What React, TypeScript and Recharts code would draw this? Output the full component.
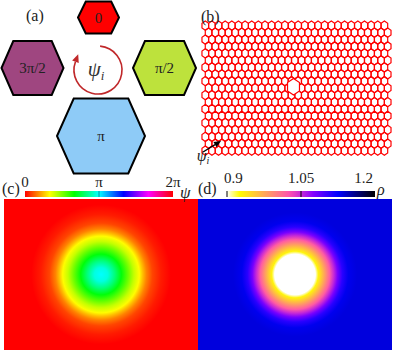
import React from 'react';
import { ScatterChart, Scatter, XAxis, YAxis, BarChart, Bar, ReferenceLine } from 'recharts';

const SERIF = '"Liberation Serif", "DejaVu Serif", serif';
const TWO_PI = 2 * Math.PI;

// (a) phase hexagons around the psi arrow
const HEX_LABELS = ['0', 'π/2', 'π', '3π/2'];
const HEX_X = [0.01, 1.33, 0.06, -1.31];
const HEX_Y = [1.05, 0.04, -1.32, 0.04];
const HEX_W = [0.41, 0.63, 0.88, 0.62];
const HEX_H = [0.32, 0.54, 0.75, 0.54];
const HEX_COLORS = ['#ff0000', '#bde23c', '#8ecbf7', '#9f4680'];

// (b) lattice
const LATTICE_COLS = 28;
const LATTICE_ROWS = 19;
const DEFECT = [{ x: 13.3, y: 8.8 }];
const B_ARROW = [{ x: -0.34, y: 18.19, dx: 2.71, dy: -1.58 }];

// (c) psi profile vs radius (radius in units of half box width, psi in units of pi)
const C_RADIUS = [0, 0.07, 0.14, 0.21, 0.28, 0.34, 0.395, 0.43, 0.47, 0.53, 0.62, 0.72];
const C_PSI = [1, 0.96, 0.83, 0.68, 0.53, 0.41, 0.33, 0.25, 0.17, 0.09, 0.035, 0];
const C_TICKS = [0, Math.PI, TWO_PI];
const C_TICK_LABELS = ['0', 'π', '2π'];

// (d) density profile vs radius
const D_RADIUS = [0, 0.21, 0.24, 0.28, 0.32, 0.36, 0.4, 0.44, 0.49, 0.55, 0.64];
const D_RHO = [0.9, 0.9, 0.93, 0.96, 0.99, 1.02, 1.05, 1.08, 1.11, 1.13, 1.135];
const D_TICKS = [0.9, 1.05, 1.2];
const D_TICK_LABELS = ['0.9', '1.05', '1.2'];

const hueColor = (psi: number) => `hsl(${(((psi / TWO_PI) * 360) % 360).toFixed(1)}, 100%, 50%)`;

function gnuplot2(t: number) {
  const c = (v: number) => Math.max(0, Math.min(1, v));
  t = c(t);
  const r = c(t / 0.32 - 0.78125);
  const g = c(2 * t - 0.84);
  let b;
  if (t < 0.25) b = 4 * t;
  else if (t < 0.42) b = 1;
  else if (t < 0.92) b = (0.92 - t) / 0.5;
  else b = (t - 0.92) * 12.5;
  const h = (v: number) => Math.round(c(v) * 255);
  return `rgb(${h(r)},${h(g)},${h(b)})`;
}
const rhoColor = (rho: number) => gnuplot2((1.2 - rho) / 0.3);

const M0 = { top: 0, right: 0, bottom: 0, left: 0 };

// ---------- panel (a)
const A_W = 200, A_H = 175, A_X: [number, number] = [-1.96, 2.04], A_Y: [number, number] = [-2.1, 1.4];
const A_PPU = A_W / (A_X[1] - A_X[0]);
const HEX_FLAT = 0.62;

const hexData = HEX_LABELS.map((label, i) => ({ x: HEX_X[i], y: HEX_Y[i], w: HEX_W[i], h: HEX_H[i], label, color: HEX_COLORS[i] }));

function PhaseHex(p: any) {
  const { cx, cy, payload } = p;
  const hw = payload.w * A_PPU, hh = payload.h * A_PPU, f = hw * HEX_FLAT;
  const d = `M${cx - hw},${cy} L${cx - f},${cy - hh} L${cx + f},${cy - hh} L${cx + hw},${cy} L${cx + f},${cy + hh} L${cx - f},${cy + hh} Z`;
  return (
    <g>
      <path d={d} fill={payload.color} stroke="#000" strokeWidth={2} strokeLinejoin="miter" />
      <text x={cx} y={cy + 5} textAnchor="middle" fontSize={15} fontFamily={SERIF} fill="#222">{payload.label}</text>
    </g>
  );
}

const ARROW_R = 0.48;
function PsiArrow(p: any) {
  const { cx, cy } = p;
  const r = ARROW_R * A_PPU;
  const a0 = (-85 * Math.PI) / 180, a1 = (200 * Math.PI) / 180;
  const sx = cx + r * Math.cos(a0), sy = cy + r * Math.sin(a0);
  const ex = cx + r * Math.cos(a1), ey = cy + r * Math.sin(a1);
  const tx = -Math.sin(a1), ty = Math.cos(a1);
  const tipX = ex + 8 * tx, tipY = ey + 8 * ty;
  const nx = -ty, ny = tx;
  return (
    <g>
      <path d={`M${sx},${sy} A${r},${r} 0 1 1 ${ex},${ey}`} fill="none" stroke="#c0282a" strokeWidth={1.6} />
      <path d={`M${tipX},${tipY} L${ex + 3.5 * nx},${ey + 3.5 * ny} L${ex - 3.5 * nx},${ey - 3.5 * ny} Z`} fill="#c0282a" />
      <text x={cx - 2} y={cy + 6} textAnchor="middle" fontFamily={SERIF} fontStyle="italic" fontSize={21} fill="#333">
        ψ<tspan dy={4} fontSize={13}>i</tspan>
      </text>
    </g>
  );
}

function PanelA() {
  return (
    <div style={{ position: 'absolute', left: 0, top: 0 }}>
      <ScatterChart width={A_W} height={A_H} margin={M0}>
        <XAxis type="number" dataKey="x" domain={A_X} allowDataOverflow hide />
        <YAxis type="number" dataKey="y" domain={A_Y} allowDataOverflow hide />
        <Scatter data={[{ x: 0, y: 0 }]} shape={PsiArrow} isAnimationActive={false} />
        <Scatter data={hexData} shape={PhaseHex} isAnimationActive={false} />
      </ScatterChart>
    </div>
  );
}

// ---------- panel (b)
const B_W = 198, B_H = 165, B_X: [number, number] = [-1.55, 28.3], B_Y: [number, number] = [-3.69, 20.06];
const B_PPX = B_W / (B_X[1] - B_X[0]);
const B_PPY = B_H / (B_Y[1] - B_Y[0]);

const latticeCells: { x: number; y: number }[] = [];
for (let row = 0; row < LATTICE_ROWS; row++) {
  for (let col = 0; col < LATTICE_COLS; col++) {
    latticeCells.push({ x: col + (row % 2) * 0.5, y: row });
  }
}

const cellPath = (cx: number, cy: number, s: number) => {
  const hw = 0.5 * B_PPX * s, hh = (0.5 / 0.75) * B_PPY * s;
  return `M${cx},${cy - hh} L${cx + hw},${cy - hh / 2} L${cx + hw},${cy + hh / 2} L${cx},${cy + hh} L${cx - hw},${cy + hh / 2} L${cx - hw},${cy - hh / 2} Z`;
};

function Cell(p: any) {
  return <path d={cellPath(p.cx, p.cy, 1)} fill="none" stroke="#ff0000" strokeWidth={1.2} />;
}
function DefectCell(p: any) {
  return <path d={cellPath(p.cx, p.cy, 1.8)} fill="#fff" stroke="#ff0000" strokeWidth={1.2} />;
}
function LatticeArrow(p: any) {
  const { cx, cy, payload } = p;
  const ex = cx + payload.dx * B_PPX, ey = cy + payload.dy * B_PPY;
  const L = Math.hypot(ex - cx, ey - cy);
  const ux = (ex - cx) / L, uy = (ey - cy) / L;
  const bx = ex - 7 * ux, by = ey - 7 * uy;
  return (
    <g>
      <line x1={cx} y1={cy} x2={bx} y2={by} stroke="#000" strokeWidth={1.4} />
      <path d={`M${ex},${ey} L${bx - 3 * uy},${by + 3 * ux} L${bx + 3 * uy},${by - 3 * ux} Z`} fill="#000" />
      <text x={cx} y={cy + 9} textAnchor="middle" fontFamily={SERIF} fontStyle="italic" fontSize={16} fill="#222">
        ψ<tspan dy={3} fontSize={10}>i</tspan>
      </text>
    </g>
  );
}

function PanelB() {
  return (
    <div style={{ position: 'absolute', left: 195, top: 0 }}>
      <ScatterChart width={B_W} height={B_H} margin={M0}>
        <XAxis type="number" dataKey="x" domain={B_X} allowDataOverflow hide />
        <YAxis type="number" dataKey="y" domain={B_Y} allowDataOverflow reversed hide />
        <Scatter data={latticeCells} shape={Cell} isAnimationActive={false} />
        <Scatter data={DEFECT} shape={DefectCell} isAnimationActive={false} />
        <Scatter data={B_ARROW} shape={LatticeArrow} isAnimationActive={false} />
      </ScatterChart>
    </div>
  );
}

// ---------- field maps (c), (d)
const MAP_W = 194, MAP_H = 151, MAP_X: [number, number] = [-1, 1], MAP_Y: [number, number] = [-0.778, 0.778];
const MAP_PPU = MAP_W / (MAP_X[1] - MAP_X[0]);

function FieldMap({ id, left, radius, values, colorOf }: any) {
  const rMax = radius[radius.length - 1];
  const outer = colorOf(values[values.length - 1]);
  const Disk = (p: any) => <circle cx={p.cx} cy={p.cy} r={rMax * MAP_PPU} fill={`url(#${id})`} />;
  return (
    <div style={{ position: 'absolute', left, top: 199, width: MAP_W, height: MAP_H, background: outer }}>
      <ScatterChart width={MAP_W} height={MAP_H} margin={M0}>
        <defs>
          <radialGradient id={id} cx="50%" cy="50%" r="50%">
            {radius.map((r: number, i: number) => (
              <stop key={i} offset={r / rMax} stopColor={colorOf(values[i])} />
            ))}
          </radialGradient>
        </defs>
        <XAxis type="number" dataKey="x" domain={MAP_X} allowDataOverflow hide />
        <YAxis type="number" dataKey="y" domain={MAP_Y} allowDataOverflow hide />
        <Scatter data={[{ x: 0, y: 0 }]} shape={Disk} isAnimationActive={false} />
      </ScatterChart>
    </div>
  );
}

function ColorBar({ id, left, width, barLeft, barRight, domain, ticks, labels, colorOf, marks, markColor, dy, anchorEnds }: any) {
  const n = 24;
  const stops = Array.from({ length: n + 1 }, (_, i) => domain[0] + ((domain[1] - domain[0]) * i) / n);
  const Tick = (p: any) => {
    const idx = ticks.indexOf(p.payload.value);
    let anchor = 'middle', off = 0;
    if (anchorEnds && idx === 0) { anchor = 'start'; off = -3; }
    if (anchorEnds && idx === ticks.length - 1) { anchor = 'end'; off = -2; }
    return (
      <text x={p.x + off} y={p.y + dy} textAnchor={anchor} fontSize={15} fontFamily={SERIF} fill="#222">
        {labels[idx]}
      </text>
    );
  };
  return (
    <div style={{ position: 'absolute', left, top: 170 }}>
      <BarChart layout="vertical" width={width} height={27} data={[{ name: 'bar', range: domain }]}
        margin={{ top: 0, right: width - barRight, bottom: 0, left: barLeft }} barCategoryGap={0}>
        <defs>
          <linearGradient id={id} x1="0" y1="0" x2="1" y2="0">
            {stops.map((v, i) => <stop key={i} offset={i / n} stopColor={colorOf(v)} />)}
          </linearGradient>
        </defs>
        <XAxis type="number" orientation="top" height={21} domain={domain} ticks={ticks} allowDataOverflow
          axisLine={false} tickLine={false} tick={Tick} interval={0} />
        <YAxis type="category" dataKey="name" hide />
        <Bar dataKey="range" fill={`url(#${id})`} isAnimationActive={false} />
        {marks.map((m: number) => (
          <ReferenceLine key={m} x={m} stroke={markColor} strokeWidth={1} />
        ))}
      </BarChart>
    </div>
  );
}

const tag = (text: string, left: number, top: number, size = 16, italic = false) => (
  <div style={{ position: 'absolute', left, top, fontFamily: SERIF, fontSize: size, fontStyle: italic ? 'italic' : 'normal', color: '#222', lineHeight: 1, whiteSpace: 'nowrap' }}>
    {text}
  </div>
);

export default function App() {
  return (
    <div style={{ position: 'absolute', left: 0, top: 0, width: 393, height: 350, background: '#fff', overflow: 'hidden' }}>
      <PanelA />
      <PanelB />
      <FieldMap id="gradC" left={4} radius={C_RADIUS} values={C_PSI.map((v) => v * Math.PI)} colorOf={hueColor} />
      <FieldMap id="gradD" left={198} radius={D_RADIUS} values={D_RHO} colorOf={rhoColor} />
      <ColorBar id="barC" left={0} width={200} barLeft={25} barRight={173} domain={[0, TWO_PI]} ticks={C_TICKS}
        labels={C_TICK_LABELS} colorOf={hueColor} marks={[Math.PI]} markColor="rgba(0,60,80,0.55)" dy={3.5} anchorEnds={false} />
      <ColorBar id="barD" left={197} width={196} barLeft={30} barRight={178} domain={[0.9, 1.2]} ticks={D_TICKS}
        labels={D_TICK_LABELS} colorOf={rhoColor} marks={[0.9, 1.05]} markColor="#000" dy={0} anchorEnds />
      {tag('(a)', 26, 8)}
      {tag('(b)', 201, 9)}
      {tag('(c)', 2, 181)}
      {tag('(d)', 198, 181)}
      {tag('ψ', 180, 184, 17, true)}
      {tag('ρ', 377, 182, 16, true)}
    </div>
  );
}
